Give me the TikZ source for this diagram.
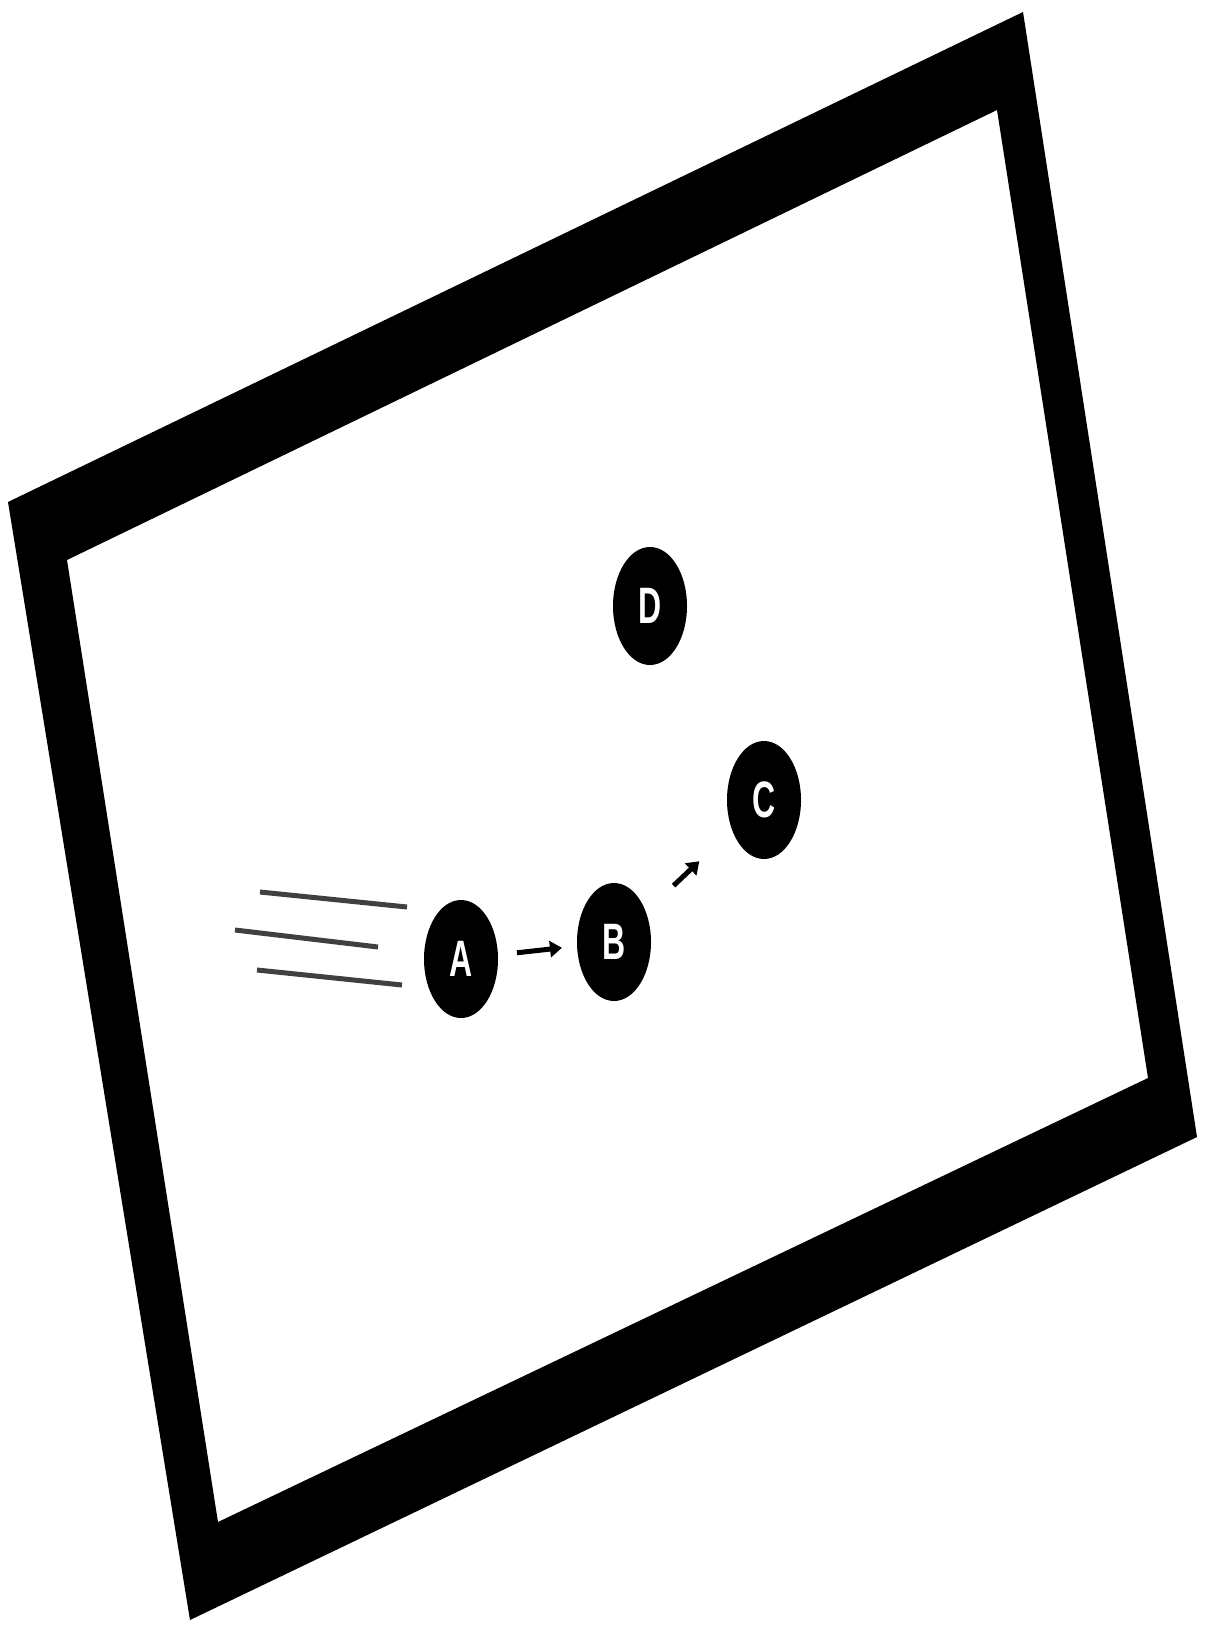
\documentclass[tikz,border=0pt]{standalone}
\usepackage{fontspec}
\setmainfont{Liberation Sans}
\usetikzlibrary{shapes.geometric,arrows.meta}
\begin{document}
\begin{tikzpicture}[x=1pt,y=-1pt,
  ball/.style={ellipse, fill=black, inner sep=0pt, minimum width=74pt, minimum height=118pt,
    text=white, font=\fontsize{32}{32}\selectfont\bfseries},
  arr/.style={line width=5pt, -{Triangle[length=12pt,width=16pt]}},
  speed/.style={line width=5pt, black!75}]
\useasboundingbox (0,0) rectangle (1207,1627);
\fill[white] (0,0) rectangle (1207,1627);
% frame
\fill[black, even odd rule]
  (8,502) -- (1023,12) -- (1197,1137) -- (190,1620) -- cycle
  (67,560) -- (997,110) -- (1148,1078) -- (218,1522) -- cycle;
% nodes
\node[ball] (A) at (461,959) {\scalebox{1}[1.6]{A}};
\node[ball] (B) at (614,942) {\scalebox{1}[1.6]{B}};
\node[ball] (C) at (764,800) {\scalebox{1}[1.6]{C}};
\node[ball] (D) at (650,606) {\scalebox{1}[1.6]{D}};
% connectors
\draw[arr, shorten <=19pt, shorten >=15pt] (A) -- (B);
\draw[arr, shorten <=38pt, shorten >=45pt] (B) -- (C);
% speed lines
\draw[speed] (260,892) -- (407,907);
\draw[speed] (235,930) -- (378,947);
\draw[speed] (257,970) -- (402,985);
\end{tikzpicture}
\end{document}
